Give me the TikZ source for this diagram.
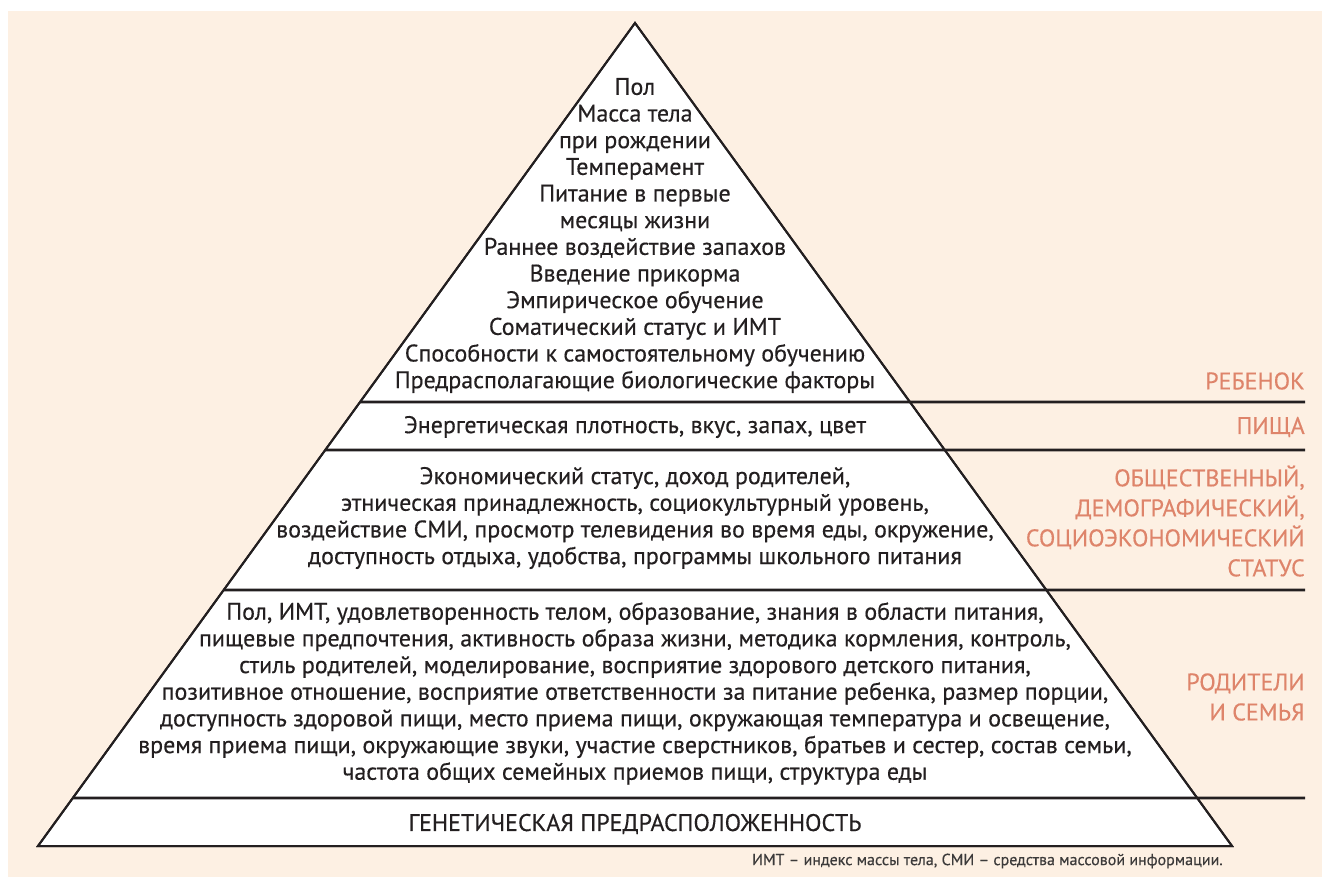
\documentclass[tikz,border=0pt]{standalone}
\usepackage{fontspec}
\setmainfont{PT Sans}[FakeBold=0.35]
\usetikzlibrary{calc}
\definecolor{paper}{HTML}{FDF0E3}
\definecolor{ink}{HTML}{231F20}
\definecolor{tag}{HTML}{DE846A}
\definecolor{note}{HTML}{3C3A3A}
\begin{document}
\begin{tikzpicture}[x=0.75pt,y=-0.75pt,
  body/.style={inner sep=0pt,align=center,text=ink,font=\fontsize{18}{20}\selectfont},
  tier/.style={inner sep=0pt,anchor=east,align=right,text=tag,font=\fontsize{18}{22.5}\selectfont},
  divider/.style={draw=ink,line width=2pt},
  outline/.style={draw=ink,line width=1.5pt,fill=white,line join=miter}]
% canvas
\fill[white] (0,0) rectangle (1322,877);
\fill[paper] (8,11) rectangle (1322,877);

% pyramid corners
\coordinate (apex) at (635,23);
\coordinate (bl) at (38,846);
\coordinate (br) at (1232,846);
\draw[outline] (apex) -- (bl) -- (br) -- cycle;

% tier boundaries: left end on the pyramid edge, right end under the tier names
\coordinate (l1) at ($(apex)!{(402-23)/823}!(bl)$);
\coordinate (l2) at ($(apex)!{(450-23)/823}!(bl)$);
\coordinate (l3) at ($(apex)!{(590-23)/823}!(bl)$);
\coordinate (l4) at ($(apex)!{(798-23)/823}!(bl)$);
\coordinate (r1) at (1305,402);
\coordinate (r2) at (1305,450);
\coordinate (r3) at (1305,590);
\coordinate (r4) at (1305,798);
\draw[divider] (l1) -- (r1);
\draw[divider] (l2) -- (r2);
\draw[divider] (l3) -- (r3);
\draw[divider] (l4) -- (r4);
\draw[outline,fill=none] (apex) -- (bl) -- (br) -- cycle;

% contents of the tiers
\node[body] (child) at (635,235.5) {Пол\\Масса тела\\при рождении\\Темперамент\\Питание в первые\\месяцы жизни\\Раннее воздействие запахов\\Введение прикорма\\Эмпирическое обучение\\Соматический статус и ИМТ\\Способности к самостоятельному обучению\\Предрасполагающие биологические факторы};
\node[body] (food) at (635,427) {Энергетическая плотность, вкус, запах, цвет};
\node[body] (society) at (635,518) {Экономический статус, доход родителей,\\этническая принадлежность, социокультурный уровень,\\воздействие СМИ, просмотр телевидения во время еды, окружение,\\доступность отдыха, удобства, программы школьного питания};
\node[body] (family) at (635,693.5) {Пол, ИМТ, удовлетворенность телом, образование, знания в области питания,\\пищевые предпочтения, активность образа жизни, методика кормления, контроль,\\стиль родителей, моделирование, восприятие здорового детского питания,\\позитивное отношение, восприятие ответственности за питание ребенка, размер порции,\\доступность здоровой пищи, место приема пищи, окружающая температура и освещение,\\время приема пищи, окружающие звуки, участие сверстников, братьев и сестер, состав семьи,\\частота общих семейных приемов пищи, структура еды};
\node[body] (genes) at (635,824) {ГЕНЕТИЧЕСКАЯ ПРЕДРАСПОЛОЖЕННОСТЬ};

% tier names
\node[tier] (tchild) at (1305,381) {РЕБЕНОК};
\node[tier] (tfood) at (1305,427) {ПИЩА};
\node[tier] (tsociety) at (1305,521) {ОБЩЕСТВЕННЫЙ,\\ДЕМОГРАФИЧЕСКИЙ,\\СОЦИОЭКОНОМИЧЕСКИЙ\\СТАТУС};
\node[tier] (tfamily) at (1305,697) {РОДИТЕЛИ\\И СЕМЬЯ};

% abbreviations
\node[inner sep=0pt,anchor=east,text=note,font=\fontsize{12}{14}\selectfont] (abbr) at (1223,861) {ИМТ – индекс массы тела, СМИ – средства массовой информации.};
\end{tikzpicture}
\end{document}
